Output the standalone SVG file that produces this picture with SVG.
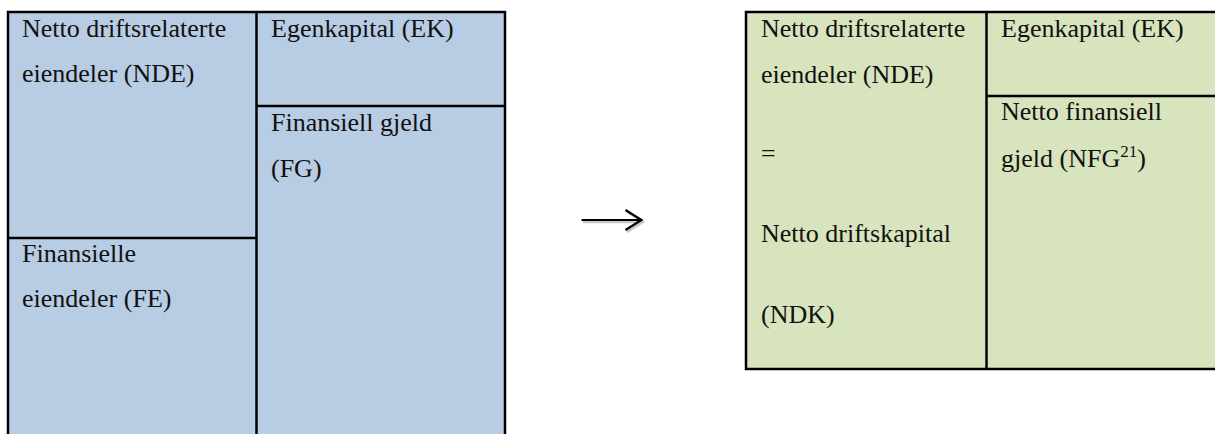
<svg xmlns="http://www.w3.org/2000/svg" width="1215" height="434" viewBox="0 0 1215 434">
<style>
  .t { font-family: "Liberation Serif", "Times New Roman", serif; font-size: 26px; fill: #111; }
  .ln { stroke: #000; stroke-width: 2.5; fill: none; }
  .blue { fill: #B8CCE4; }
  .green { fill: #D7E4BD; }
</style>
<rect width="1215" height="434" fill="#fff"/>
<g id="left-table">
  <rect class="blue" x="8" y="12" width="497" height="430"/>
  <path class="ln" d="M8,445 V12 H505 V445 M256.5,12 V445 M8,238 H256.5 M256.5,106 H505"/>
</g>
<g id="nde-left"><text class="t" x="22" y="37">Netto driftsrelaterte</text><text class="t" x="22" y="82">eiendeler (NDE)</text></g>
<g id="ek-left"><text class="t" x="271" y="37">Egenkapital (EK)</text></g>
<g id="fg-left"><text class="t" x="271" y="131">Finansiell gjeld</text><text class="t" x="271" y="177">(FG)</text></g>
<g id="fe-left"><text class="t" x="22" y="262">Finansielle</text><text class="t" x="22" y="307">eiendeler (FE)</text></g>
<g id="connectors">
  <path d="M583,222 H643 M627,212 L643,222 L627,232" stroke="#c8c8c8" stroke-width="2.5" fill="none"/>
  <path d="M581.5,220 H641.5 M625.5,210 L641.5,220 L625.5,230" stroke="#000" stroke-width="2.2" fill="none"/>
</g>
<g id="right-table">
  <rect class="green" x="746" y="12" width="475" height="357"/>
  <path class="ln" d="M1220,12 H746 V369 H1220 M986.5,12 V369 M986.5,96 H1220"/>
</g>
<g id="nde-right"><text class="t" x="761" y="37">Netto driftsrelaterte</text><text class="t" x="761" y="83">eiendeler (NDE)</text><text class="t" x="761" y="162">=</text><text class="t" x="761" y="242">Netto driftskapital</text><text class="t" x="761" y="323">(NDK)</text></g>
<g id="ek-right"><text class="t" x="1001" y="37">Egenkapital (EK)</text></g>
<g id="nfg-right"><text class="t" x="1001" y="120">Netto finansiell</text><text class="t" x="1001" y="167">gjeld (NFG<tspan font-size="17" dy="-10">21</tspan><tspan dy="10">)</tspan></text></g>
</svg>
